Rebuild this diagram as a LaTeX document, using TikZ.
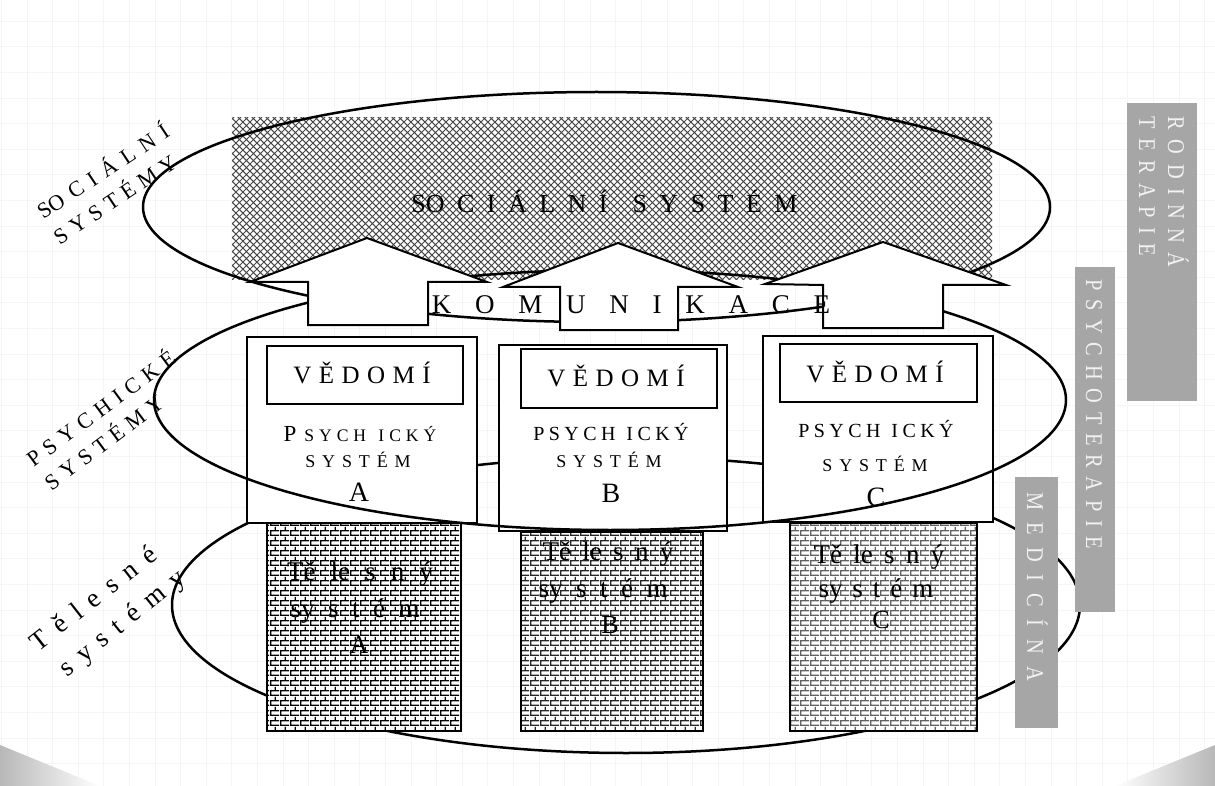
\documentclass[tikz,border=0pt]{standalone}
\usepackage{fontspec}
\setmainfont{Liberation Serif}
\usetikzlibrary{patterns,shapes.geometric}
\definecolor{grayfill}{HTML}{A6A6A6}
\definecolor{graytxt}{HTML}{F2F2F2}
\newcommand\lgap[1]{\spaceskip=#1em\relax}
\pgfdeclarepatternformonly{xhatch}{\pgfpointorigin}{\pgfqpoint{3.7pt}{3.7pt}}{\pgfqpoint{3.7pt}{3.7pt}}{%
  \pgfsetlinewidth{0.5pt}%
  \pgfpathmoveto{\pgfpointorigin}\pgfpathlineto{\pgfqpoint{3.7pt}{3.7pt}}%
  \pgfpathmoveto{\pgfqpoint{0pt}{3.7pt}}\pgfpathlineto{\pgfqpoint{3.7pt}{0pt}}%
  \pgfusepath{stroke}}
\pgfdeclarepatternformonly{mybricks}{\pgfpointorigin}{\pgfqpoint{5pt}{5pt}}{\pgfqpoint{5pt}{5pt}}{%
  \pgfsetlinewidth{0.75pt}%
  \pgfpathmoveto{\pgfqpoint{0pt}{0.4pt}}\pgfpathlineto{\pgfqpoint{5pt}{0.4pt}}%
  \pgfpathmoveto{\pgfqpoint{0pt}{2.9pt}}\pgfpathlineto{\pgfqpoint{5pt}{2.9pt}}%
  \pgfpathmoveto{\pgfqpoint{0.4pt}{0pt}}\pgfpathlineto{\pgfqpoint{0.4pt}{2.9pt}}%
  \pgfpathmoveto{\pgfqpoint{2.9pt}{2.5pt}}\pgfpathlineto{\pgfqpoint{2.9pt}{5pt}}%
  \pgfusepath{stroke}}
\begin{document}
\begin{tikzpicture}[x=0.5pt,y=-0.5pt,
  every node/.style={inner sep=0pt, outer sep=0pt},
  gridc/.style={draw=black!4, line width=0.4pt},
  ell/.style={ellipse, draw=black, line width=1.25pt},
  box/.style={draw=black, line width=1.2pt, fill=white},
  vbox/.style={draw=black, line width=1pt, fill=white},
  body/.style={draw=black, line width=1.2pt, preaction={fill=white}, pattern=mybricks},
  arr/.style={draw=black, line width=1pt, fill=white, line join=miter},
  gbox/.style={fill=grayfill},
  gtxt/.style={text=graytxt, rotate=-90, anchor=base west},
  txt/.style={anchor=base, text=black},
  lab/.style={anchor=center, text=black},
]
\useasboundingbox (0,0) rectangle (1215,786);
\fill[white] (0,0) rectangle (1215,786);
% faint grid
\foreach \i in {0,...,47} {\draw[gridc] ({1.3+\i*25.6},0) -- ({1.3+\i*25.6},786);}
\foreach \j in {0,...,30} {\draw[gridc] (0,{21.2+\j*25.6}) -- (1215,{21.2+\j*25.6});}
% bottom corner shadows
\shade[left color=black!28, right color=white] (0,745) -- (0,786) -- (100,786) -- cycle;
\shade[right color=black!28, left color=white] (1215,745) -- (1215,786) -- (1115,786) -- cycle;

% social system cross-hatched area
\node[preaction={fill=white}, pattern=xhatch, pattern color=black!72,
      minimum width=380pt, minimum height=81pt] (hatch) at (612,199) {};
% ellipses (social and bodily)
\node[ell, minimum width=453.5pt, minimum height=115pt] (socE) at (596.5,207) {};
\node[ell, minimum width=454pt, minimum height=148pt] (bodE) at (626,605) {};

% bodily systems
\node[body, pattern color=black, minimum width=97pt, minimum height=104pt] (bodA) at (364,627) {};
\node[body, pattern color=black!85, minimum width=91pt, minimum height=99.5pt] (bodB) at (612,631.5) {};
\node[body, pattern color=black!62, minimum width=93.5pt, minimum height=104pt] (bodC) at (883.5,627) {};

% psychic systems
\node[box, minimum width=115pt, minimum height=93pt] (psyA) at (362,430) {};
\node[box, minimum width=114pt, minimum height=93pt] (psyB) at (613,438) {};
\node[box, minimum width=115pt, minimum height=93pt] (psyC) at (878,429) {};
\node[vbox, minimum width=98pt, minimum height=29pt] (vedA) at (365,375) {};
\node[vbox, minimum width=98pt, minimum height=29.5pt] (vedB) at (619,378.5) {};
\node[vbox, minimum width=98.5pt, minimum height=29pt] (vedC) at (878.5,373) {};

% psychic ellipse
\node[ell, minimum width=456pt, minimum height=130pt] (psyE) at (610,400) {};

% communication arrows
\draw[arr] (308,325) -- (308,282) -- (250,282) -- (367,238) -- (487,282) -- (428,282) -- (428,325) -- cycle;
\draw[arr] (560,330) -- (560,287) -- (503,287) -- (618,243) -- (738,287) -- (678,287) -- (678,330) -- cycle;
\draw[arr] (823,328) -- (823,285) -- (765,284) -- (883,242) -- (1006,285) -- (943,285) -- (943,328) -- cycle;

% texts
\node[txt, font=\fontsize{13}{15}\selectfont] (socT) at (604.5,213) {\lgap{0.48}SO C I Á L N Í\hspace{0.48em} S Y S T É M};
\node[txt, font=\fontsize{13.5}{16}\selectfont] (komT) at (631,314) {\lgap{0.88}K O M U N I K A C E};

\node[txt, font=\fontsize{12.5}{15}\selectfont] (vedTA) at (362,383) {\lgap{0.3}V Ě D O M Í};
\node[txt, font=\fontsize{12.5}{15}\selectfont] (vedTB) at (616,386) {\lgap{0.3}V Ě D O M Í};
\node[txt, font=\fontsize{12.5}{15}\selectfont] (vedTC) at (875,382) {\lgap{0.3}V Ě D O M Í};

\node[txt] (psyTA) at (360,441) {\fontsize{11.5}{14}\selectfont P\fontsize{8.8}{11}\selectfont\lgap{0.28}\hspace{0.45em}S Y C H\hspace{0.7em}I C K Ý};
\node[txt, font=\fontsize{10}{12}\selectfont] (psyTB) at (611,440) {\lgap{0.22}P S Y C H\hspace{0.33em} I C K Ý};
\node[txt, font=\fontsize{10}{12}\selectfont] (psyTC) at (876,437) {\lgap{0.22}P S Y C H\hspace{0.33em} I C K Ý};

\node[txt, font=\fontsize{9}{11}\selectfont] (sysTA) at (358,467) {\lgap{0.38}S Y S T É M};
\node[txt, font=\fontsize{9}{11}\selectfont] (sysTB) at (609,467) {\lgap{0.38}S Y S T É M};
\node[txt, font=\fontsize{9}{11}\selectfont] (sysTC) at (875,471) {\lgap{0.38}S Y S T É M};

\node[txt, font=\fontsize{14}{16}\selectfont] (letA) at (359,501) {A};
\node[txt, font=\fontsize{14}{16}\selectfont] (letB) at (611,502) {B};
\node[txt, font=\fontsize{14}{16}\selectfont] (letC) at (876,506) {C};

\node[txt, font=\fontsize{13.5}{16}\selectfont] (telA) at (360,580) {\lgap{0.56}Tě le s n ý};
\node[txt, font=\fontsize{13.5}{16}\selectfont] (stA) at (355,617) {\lgap{0.5}sy s t é m};
\node[txt, font=\fontsize{13}{16}\selectfont] (bA) at (359,653) {A};
\node[txt, font=\fontsize{13.5}{16}\selectfont] (telB) at (608,560) {\lgap{0.42}Tě le s n ý};
\node[txt, font=\fontsize{13.5}{16}\selectfont] (stB) at (603,597) {\lgap{0.5}sy s t é m};
\node[txt, font=\fontsize{13}{16}\selectfont] (bB) at (610,633) {B};
\node[txt, font=\fontsize{13.5}{16}\selectfont] (telC) at (879,563) {\lgap{0.42}Tě le s n ý};
\node[txt, font=\fontsize{13.5}{16}\selectfont] (stC) at (876,597) {\lgap{0.37}sy s t é m};
\node[txt, font=\fontsize{13}{16}\selectfont] (bC) at (881,628) {C};

% left labels
\node[lab, rotate=33.5, font=\fontsize{11}{13}\selectfont] (lsoc1) at (102,170) {\lgap{0.38}SO C I Á L N Í};
\node[lab, rotate=33.7, font=\fontsize{11}{13}\selectfont] (lsoc2) at (114,198) {\lgap{0.3}S Y S T É M Y};
\node[lab, rotate=36.4, font=\fontsize{11}{13}\selectfont] (lpsy1) at (100,407) {\lgap{0.32}P S Y C H I C K É};
\node[lab, rotate=36.8, font=\fontsize{11}{13}\selectfont] (lpsy2) at (103,441) {\lgap{0.3}S Y S T É M Y};
\node[lab, rotate=38, font=\fontsize{13.5}{15}\selectfont] (ltel1) at (93,598) {\lgap{0.42}T ě l e s n é};
\node[lab, rotate=39, font=\fontsize{13.5}{15}\selectfont] (ltel2) at (123,624) {\lgap{0.4}s y s t é m y};

% right grey labels
\node[gbox, minimum width=35pt, minimum height=149pt] (rodB) at (1162,252) {};
\node[gbox, minimum width=20pt, minimum height=172.5pt] (ptB) at (1095,439.5) {};
\node[gbox, minimum width=21.5pt, minimum height=125.5pt] (medB) at (1036.5,602.5) {};
\node[gtxt, font=\fontsize{12}{14}\selectfont] (rodT) at (1168,117) {\scalebox{0.85}[1]{\lgap{0.46}R O D I N N Á}};
\node[gtxt, font=\fontsize{12}{14}\selectfont] (terT) at (1139,117) {\scalebox{0.85}[1]{\lgap{0.45}T E R A P I E}};
\node[gtxt, font=\fontsize{12}{14}\selectfont] (ptT) at (1086,279) {\scalebox{0.85}[1]{\lgap{0.43}P S Y C H O T E R A P I E}};
\node[gtxt, font=\fontsize{12}{14}\selectfont] (medT) at (1027,492) {\scalebox{0.85}[1]{\lgap{0.61}M E D I C Í N A}};
\end{tikzpicture}
\end{document}
